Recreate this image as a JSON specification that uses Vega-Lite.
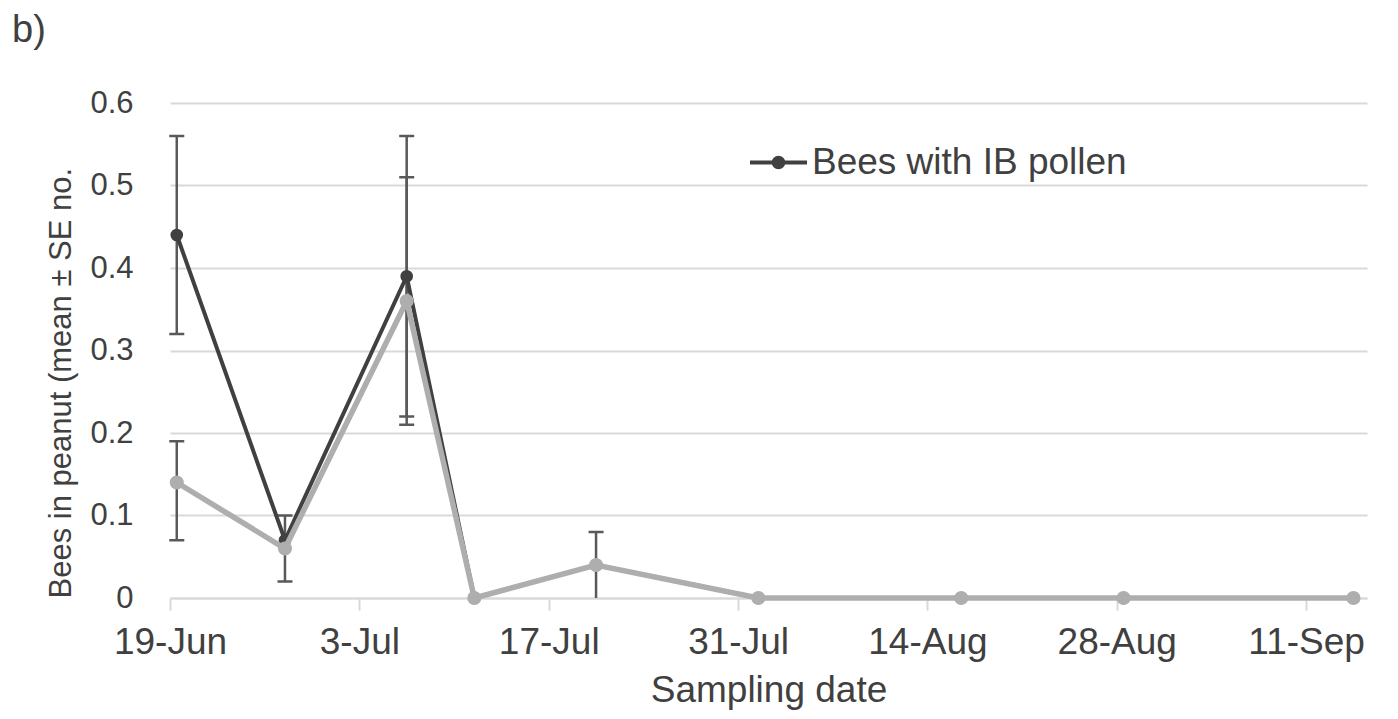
{
  "$schema": "https://vega.github.io/schema/vega-lite/v6.json",
  "width": 1197,
  "height": 495,
  "autosize": {"type": "none"},
  "padding": {"left": 170, "top": 103, "right": 31, "bottom": 121},
  "background": "white",
  "title": {
    "text": "b)",
    "anchor": "start",
    "frame": "group",
    "dx": -158,
    "offset": 7,
    "baseline": "alphabetic",
    "font": "Liberation Sans",
    "fontSize": 38,
    "fontWeight": "normal",
    "color": "#404040"
  },
  "config": {
    "view": {"stroke": null},
    "font": "Liberation Sans"
  },
  "data": {
    "values": [
      {"series": "Bees with IB pollen", "date": "2015-06-19T12:00:00", "mean": 0.44, "lo": 0.32, "hi": 0.56},
      {"series": "Bees with IB pollen", "date": "2015-06-27T12:00:00", "mean": 0.07, "lo": null, "hi": null},
      {"series": "Bees with IB pollen", "date": "2015-07-06T12:00:00", "mean": 0.39, "lo": 0.22, "hi": 0.56},
      {"series": "Bees with IB pollen", "date": "2015-07-11T12:00:00", "mean": 0, "lo": null, "hi": null},
      {"series": "Bees with IB pollen", "date": "2015-07-20T12:00:00", "mean": 0.04, "lo": null, "hi": null},
      {"series": "Bees with IB pollen", "date": "2015-08-01T12:00:00", "mean": 0, "lo": null, "hi": null},
      {"series": "Bees with IB pollen", "date": "2015-08-16T12:00:00", "mean": 0, "lo": null, "hi": null},
      {"series": "Bees with IB pollen", "date": "2015-08-28T12:00:00", "mean": 0, "lo": null, "hi": null},
      {"series": "Bees with IB pollen", "date": "2015-09-14T12:00:00", "mean": 0, "lo": null, "hi": null},
      {"series": "All bees", "date": "2015-06-19T12:00:00", "mean": 0.14, "lo": 0.07, "hi": 0.19},
      {"series": "All bees", "date": "2015-06-27T12:00:00", "mean": 0.06, "lo": 0.02, "hi": 0.10},
      {"series": "All bees", "date": "2015-07-06T12:00:00", "mean": 0.36, "lo": 0.21, "hi": 0.51},
      {"series": "All bees", "date": "2015-07-11T12:00:00", "mean": 0, "lo": null, "hi": null},
      {"series": "All bees", "date": "2015-07-20T12:00:00", "mean": 0.04, "lo": 0, "hi": 0.08},
      {"series": "All bees", "date": "2015-08-01T12:00:00", "mean": 0, "lo": null, "hi": null},
      {"series": "All bees", "date": "2015-08-16T12:00:00", "mean": 0, "lo": null, "hi": null},
      {"series": "All bees", "date": "2015-08-28T12:00:00", "mean": 0, "lo": null, "hi": null},
      {"series": "All bees", "date": "2015-09-14T12:00:00", "mean": 0, "lo": null, "hi": null}
    ]
  },
  "encoding": {
    "x": {
      "field": "date",
      "type": "temporal",
      "scale": {"domain": [{"year": 2015, "month": 6, "date": 19}, {"year": 2015, "month": 9, "date": 15, "hours": 12}]},
      "axis": {
        "title": "Sampling date",
        "format": "%-d-%b",
        "values": [
          {"year": 2015, "month": 6, "date": 19},
          {"year": 2015, "month": 7, "date": 3},
          {"year": 2015, "month": 7, "date": 17},
          {"year": 2015, "month": 7, "date": 31},
          {"year": 2015, "month": 8, "date": 14},
          {"year": 2015, "month": 8, "date": 28},
          {"year": 2015, "month": 9, "date": 11}
        ],
        "grid": false,
        "domain": true,
        "domainColor": "#d9d9d9",
        "domainWidth": 2,
        "ticks": true,
        "tickColor": "#d9d9d9",
        "tickWidth": 2,
        "tickSize": 12,
        "labelFont": "Liberation Sans",
        "labelFontSize": 37,
        "labelColor": "#404040",
        "labelPadding": 14,
        "labelOverlap": false,
        "labelFlush": false,
        "titleFont": "Liberation Sans",
        "titleFontSize": 37,
        "titleFontWeight": "normal",
        "titleColor": "#404040",
        "titlePadding": 12
      }
    },
    "y": {
      "field": "mean",
      "type": "quantitative",
      "scale": {"domain": [0, 0.6], "nice": false, "zero": true},
      "axis": {
        "title": "Bees in peanut (mean ± SE no.",
        "values": [0, 0.1, 0.2, 0.3, 0.4, 0.5, 0.6],
        "labelExpr": "datum.value == 0 ? '0' : format(datum.value, '.1f')",
        "grid": true,
        "gridColor": "#d9d9d9",
        "gridWidth": 2,
        "domain": false,
        "ticks": false,
        "labelFont": "Liberation Sans",
        "labelFontSize": 31,
        "labelColor": "#404040",
        "labelPadding": 37,
        "titleFont": "Liberation Sans",
        "titleFontSize": 31,
        "titleFontWeight": "normal",
        "titleColor": "#404040",
        "titleAnchor": "start",
        "titlePadding": 12
      }
    }
  },
  "layer": [
    {
      "transform": [{"filter": "datum.hi != null"}],
      "mark": {"type": "rule", "color": "#595959", "strokeWidth": 2.5},
      "encoding": {"y": {"field": "lo", "type": "quantitative"}, "y2": {"field": "hi"}}
    },
    {
      "transform": [{"filter": "datum.hi != null"}],
      "mark": {"type": "tick", "orient": "horizontal", "color": "#595959", "size": 15, "thickness": 2.5, "opacity": 1},
      "encoding": {"y": {"field": "hi", "type": "quantitative"}}
    },
    {
      "transform": [{"filter": "datum.lo != null && datum.lo > 0"}],
      "mark": {"type": "tick", "orient": "horizontal", "color": "#595959", "size": 15, "thickness": 2.5, "opacity": 1},
      "encoding": {"y": {"field": "lo", "type": "quantitative"}}
    },
    {
      "transform": [{"filter": "datum.series == 'Bees with IB pollen'"}],
      "mark": {"type": "line", "strokeWidth": 4},
      "encoding": {
        "color": {
          "field": "series",
          "type": "nominal",
          "scale": {"domain": ["Bees with IB pollen", "All bees"], "range": ["#404040", "#aeaeae"]},
          "legend": {
            "values": ["Bees with IB pollen"],
            "title": null,
            "orient": "none",
            "legendX": 578,
            "legendY": 29,
            "padding": 0,
            "symbolType": "M-1,0H1M-0.17,0A0.17,0.17,0,1,1,0.17,0A0.17,0.17,0,1,1,-0.17,0Z",
            "symbolSize": 3249,
            "symbolStrokeWidth": 4,
            "symbolFillColor": "#404040",
            "labelFont": "Liberation Sans",
            "labelFontSize": 37,
            "labelColor": "#404040",
            "labelOffset": 3,
            "labelLimit": 600,
            "encode": {"symbols": {"update": {"fill": {"value": "#404040"}, "stroke": {"value": "#404040"}, "strokeWidth": {"value": 4}, "opacity": {"value": 1}}}}
          }
        }
      }
    },
    {
      "transform": [{"filter": "datum.series == 'Bees with IB pollen'"}],
      "mark": {"type": "point", "filled": true, "size": 160, "opacity": 1, "color": "#404040"},
      "encoding": {}
    },
    {
      "transform": [{"filter": "datum.series == 'All bees'"}],
      "mark": {"type": "line", "strokeWidth": 5.5},
      "encoding": {"color": {"field": "series", "type": "nominal"}}
    },
    {
      "transform": [{"filter": "datum.series == 'All bees'"}],
      "mark": {"type": "point", "filled": true, "size": 200, "opacity": 1, "color": "#aeaeae"},
      "encoding": {}
    }
  ]
}
